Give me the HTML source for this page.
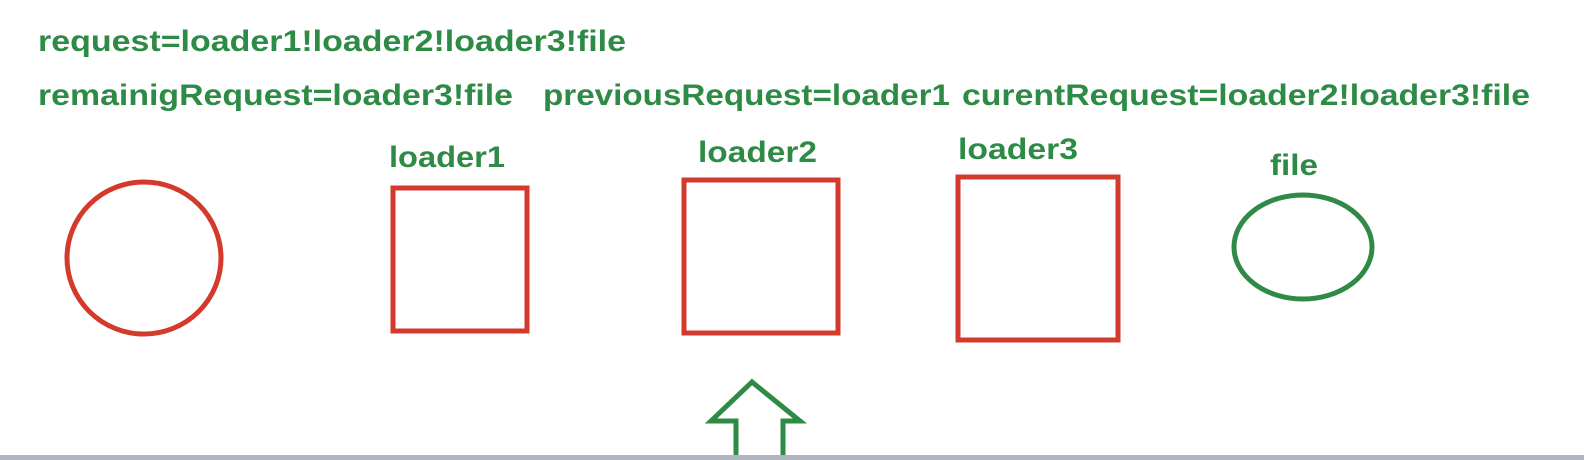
<!DOCTYPE html>
<html><head><style>html,body{margin:0;padding:0;background:#fff;}svg{display:block;}</style></head>
<body>
<svg width="1584" height="460" xmlns="http://www.w3.org/2000/svg">
<rect width="1584" height="460" fill="#fff"/>
<g font-family="Liberation Sans, sans-serif" font-weight="bold" font-size="30" fill="#2e8b45">
<text x="38" y="51" textLength="588" lengthAdjust="spacingAndGlyphs">request=loader1!loader2!loader3!file</text>
<text x="38" y="105" textLength="475" lengthAdjust="spacingAndGlyphs">remainigRequest=loader3!file</text>
<text x="543" y="105" textLength="407" lengthAdjust="spacingAndGlyphs">previousRequest=loader1</text>
<text x="962" y="105" textLength="568" lengthAdjust="spacingAndGlyphs">curentRequest=loader2!loader3!file</text>
<text x="389" y="167" textLength="116" lengthAdjust="spacingAndGlyphs">loader1</text>
<text x="698" y="162" textLength="119" lengthAdjust="spacingAndGlyphs">loader2</text>
<text x="958" y="159" textLength="120" lengthAdjust="spacingAndGlyphs">loader3</text>
<text x="1270" y="175" textLength="48" lengthAdjust="spacingAndGlyphs">file</text>
</g>
<g fill="none" stroke-width="5">
<ellipse cx="144" cy="258" rx="77" ry="76" stroke="#d43a2c"/>
<rect x="393" y="188" width="134" height="143" stroke="#d43a2c"/>
<rect x="684" y="180" width="154" height="153" stroke="#d43a2c"/>
<rect x="958" y="177" width="160" height="163" stroke="#d43a2c"/>
<ellipse cx="1303" cy="247" rx="69" ry="52" stroke="#2e8b45"/>
<path d="M736 456 L736 421 L711 421 L752 382 L800 421 L783 421 L783 456" stroke="#2e8b45" stroke-linejoin="miter"/>
</g>
<rect x="0" y="455" width="1584" height="5" fill="#b0b4c0"/>
</svg>
</body></html>
